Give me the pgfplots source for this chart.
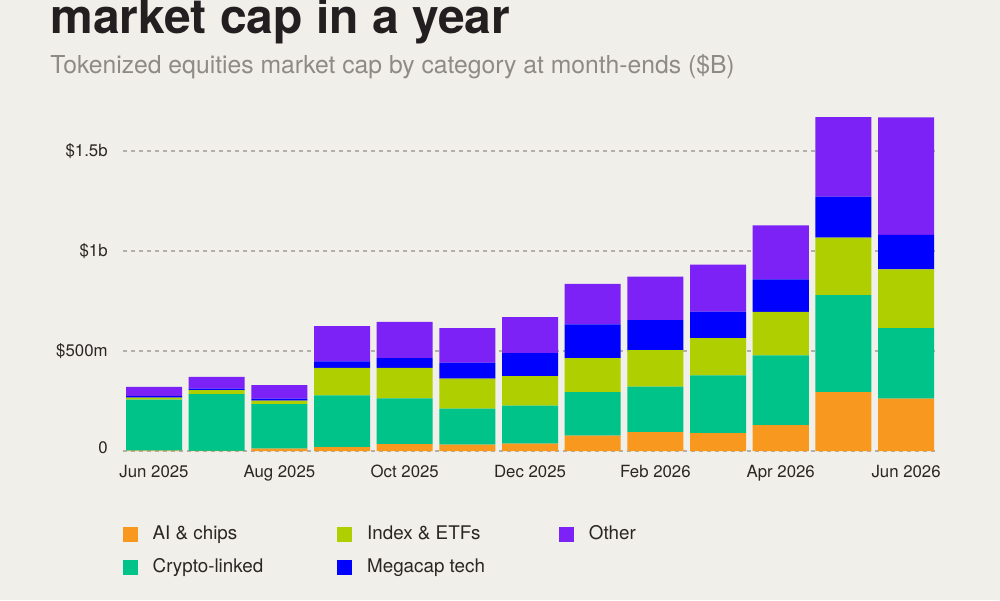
\documentclass[border=0pt]{standalone}
\usepackage{fontspec}
\setmainfont{TeX Gyre Heros}
\usepackage{pgfplots}
\usepackage{pgfplotstable}
\pgfplotsset{compat=1.18}

\definecolor{bg}{HTML}{F0EFE9}
\definecolor{titlecol}{HTML}{231F20}
\definecolor{subcol}{HTML}{8F8A85}
\definecolor{tickcol}{HTML}{2B2624}
\definecolor{gridcol}{HTML}{B3B0AA}
\definecolor{cAI}{HTML}{F8981E}
\definecolor{cCrypto}{HTML}{00C389}
\definecolor{cIndex}{HTML}{AFCF00}
\definecolor{cMega}{HTML}{0000FF}
\definecolor{cOther}{HTML}{7C22F6}

% Tokenized equities market cap by category, month-ends, in $ millions
\pgfplotstableread{
idx ai crypto index mega other
0   2   255  10   7    47
1   1   283  20   8    59
2   12  223  17   10   68
3   20  258  138  32   177
4   35  228  153  48   182
5   32  180  150  80   173
6   37  190  148  115  180
7   77  218  170  168  202
8   95  227  182  150  218
9   90  288  187  132  235
10  130 348  218  162  270
11  295 485  287  205  397
12  262 353  293  173  587
}\capdata

\begin{document}
\begin{tikzpicture}
\fill[bg] (0,0) rectangle (500pt,300pt);
\node[anchor=base west, inner sep=0pt, text=titlecol,
      font=\fontsize{24pt}{28pt}\selectfont\bfseries] at (25pt,283pt) {market cap in a year};
\node[anchor=base west, inner sep=0pt, text=subcol,
      font=\fontsize{12.35pt}{15pt}\selectfont] at (25pt,263pt)
      {Tokenized equities market cap by category at month-ends (\$B)};
\begin{axis}[
  at={(61.35pt,74.5pt)}, anchor=south west,
  scale only axis, width=407.35pt, height=170pt,
  xmin=-0.5, xmax=12.5, ymin=0, ymax=1700,
  ybar stacked, bar width=0.894,
  xtick={0,2,4,6,8,10,12},
  xticklabels={Jun 2025, Aug 2025, Oct 2025, Dec 2025, Feb 2026, Apr 2026, Jun 2026},
  ytick={0,500,1000,1500},
  yticklabels={\raisebox{3.5pt}{0}, \$500m, \$1b, \$1.5b},
  ymajorgrids,
  major grid style={dash pattern=on 2pt off 2pt, color=gridcol, line width=0.6pt},
  axis line style={draw=none}, major tick length=0pt, tick style={draw=none},
  tick label style={font=\fontsize{8.4pt}{10pt}\selectfont, text=tickcol},
  xticklabel style={anchor=base, inner sep=0pt, yshift=-13pt},
  yticklabel style={anchor=east, inner sep=0pt, xshift=-7.35pt},
  legend columns=2, transpose legend, legend cell align=left,
  legend image code/.code={\fill[#1] (0pt,-3.75pt) rectangle (7.5pt,3.75pt);},
  legend style={at={(0,-0.218)}, anchor=north west, draw=none, fill=none,
    inner sep=0pt, outer sep=0pt, row sep=7.75pt,
    font=\fontsize{9.4pt}{11pt}\selectfont, text=tickcol,
    nodes={inner sep=0pt, text height=7pt, text depth=2pt},
    /tikz/every odd column/.style={column sep=7.5pt},
    /tikz/every even column/.style={column sep=37pt}},
]
\addplot[fill=cAI, draw=none] table[x=idx, y=ai] {\capdata};
\addplot[fill=cCrypto, draw=none] table[x=idx, y=crypto] {\capdata};
\addplot[fill=cIndex, draw=none] table[x=idx, y=index] {\capdata};
\addplot[fill=cMega, draw=none] table[x=idx, y=mega] {\capdata};
\addplot[fill=cOther, draw=none] table[x=idx, y=other] {\capdata};
\legend{AI \& chips, Crypto-linked, Index \& ETFs, Megacap tech, Other}
\end{axis}
\pgfresetboundingbox
\path[use as bounding box] (0,0) rectangle (500pt,300pt);
\end{tikzpicture}
\end{document}
